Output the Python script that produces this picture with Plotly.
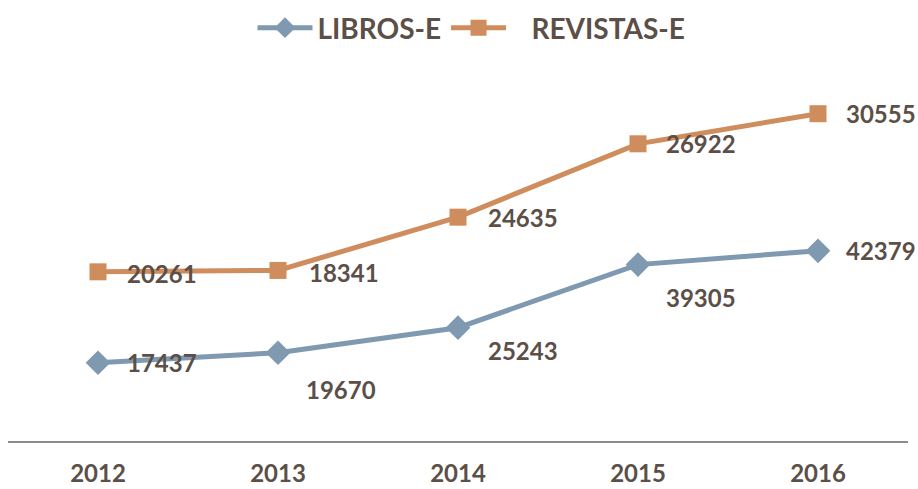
import plotly.graph_objects as go

years = ["2012", "2013", "2014", "2015", "2016"]
libros = [17437, 19670, 25243, 39305, 42379]
revistas = [20261, 18341, 24635, 26922, 30555]

# label offsets (pixels) for data labels
lib_dx = [27, 26, 28, 26, 26]
lib_dy = [0, -37, -23, -33, 0]
rev_dx = [27, 29, 28, 26, 26]
rev_dy = [-2, -2, 0, 0, 0]

TXT = "#5b4f47"
BLUE = "#7f99b1"
ORANGE = "#cf8c5c"
FONT = "Lato"

fig = go.Figure()
fig.add_trace(go.Scatter(
    x=years, y=libros, name="LIBROS-E", stackgroup="one", fill="none",
    mode="lines+markers", line=dict(color=BLUE, width=5),
    marker=dict(symbol="diamond", size=19, color=BLUE),
))
fig.add_trace(go.Scatter(
    x=years, y=revistas, name="\u00a0\u00a0\u00a0REVISTAS-E", stackgroup="one", fill="none",
    mode="lines+markers", line=dict(color=ORANGE, width=5),
    marker=dict(symbol="square", size=17, color=ORANGE),
))

annotations = []
for i, yr in enumerate(years):
    annotations.append(dict(
        x=i, y=libros[i], xref="x", yref="y", text=str(libros[i]),
        showarrow=False, xanchor="left", yanchor="middle",
        xshift=lib_dx[i], yshift=lib_dy[i],
        font=dict(family=FONT, size=24, color=TXT, weight="bold"),
    ))
    annotations.append(dict(
        x=i, y=libros[i] + revistas[i], xref="x", yref="y", text=str(revistas[i]),
        showarrow=False, xanchor="left", yanchor="middle",
        xshift=rev_dx[i], yshift=rev_dy[i],
        font=dict(family=FONT, size=24, color=TXT, weight="bold"),
    ))

fig.update_layout(
    width=918, height=489,
    margin=dict(l=8, r=10, t=82, b=48, autoexpand=False),
    paper_bgcolor="white", plot_bgcolor="white",
    showlegend=True,
    legend=dict(
        orientation="h", x=0.515, xanchor="center", y=1 - 28 / 489, yanchor="middle",
        yref="container", itemwidth=55,
        font=dict(family=FONT, size=28, color=TXT, weight="bold"),
        traceorder="normal",
    ),
    annotations=annotations,
    xaxis=dict(
        type="category", range=[-0.5, 4.5], showgrid=False, zeroline=False,
        showline=True, linecolor="#8c8c8c", linewidth=2, ticks="",
        tickfont=dict(family=FONT, size=24, color=TXT, weight="bold"),
        ticklabelstandoff=10,
    ),
    yaxis=dict(range=[0, 80000], visible=False, showgrid=False, zeroline=False),
    hovermode=False,
)

fig.write_html(
    "out.html",
    config={"displayModeBar": False, "staticPlot": True},
    post_script="document.body.style.margin='0px';document.body.style.overflow='hidden';",
)
